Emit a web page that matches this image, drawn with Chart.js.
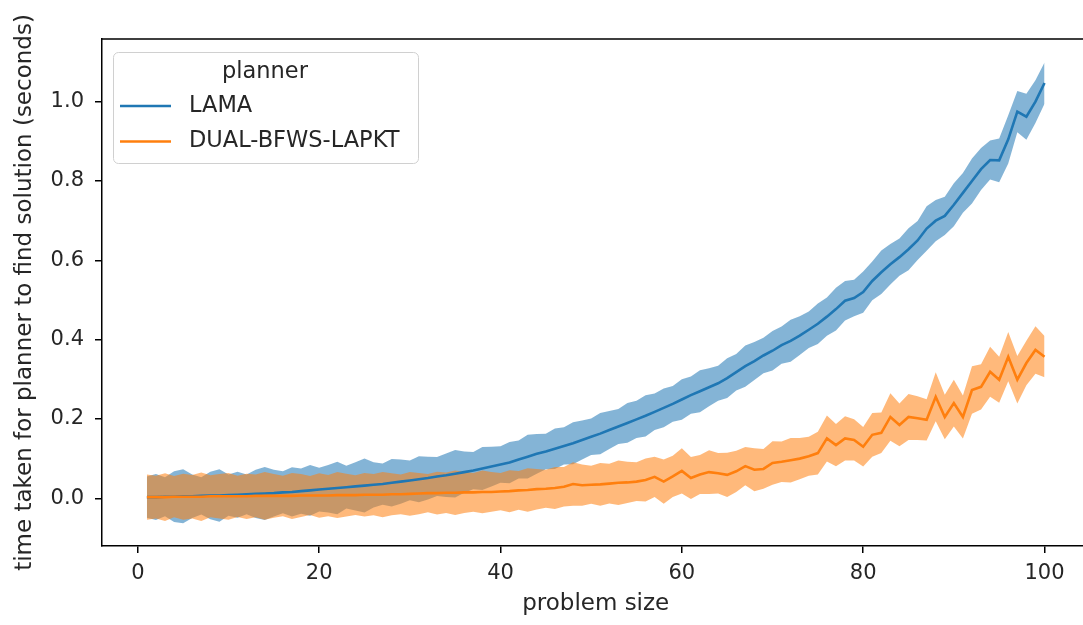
<!DOCTYPE html>
<html><head><meta charset="utf-8">
<script src="https://cdn.jsdelivr.net/npm/chart.js@4.4.1/dist/chart.umd.min.js"></script>
<style>html,body{margin:0;padding:0;overflow:hidden;background:#fff}#wrap{width:1100px;height:625px}</style>
</head><body><div id="wrap"><canvas id="c" width="1100" height="625"></canvas></div>
<script>
const problemSizes = Array.from({length:100},(_,i)=>i+1);
const seriesNames = ['LAMA','DUAL-BFWS-LAPKT'];
const legendTitle = 'planner';
const xTickValues = [0,20,40,60,80,100];
const yTickValues = [0,0.2,0.4,0.6,0.8,1.0];

const lamaMean = [
 0.003,0.003,0.004,0.004,0.005,0.005,0.006,0.007,0.007,0.008,
 0.009,0.010,0.011,0.012,0.013,0.015,0.016,0.018,0.020,0.022,
 0.024,0.026,0.028,0.030,0.032,0.034,0.036,0.039,0.042,0.045,
 0.048,0.051,0.055,0.058,0.062,0.066,0.070,0.075,0.080,0.085,
 0.090,0.098,0.105,0.112,0.118,0.125,0.132,0.139,0.147,0.155,
 0.163,0.172,0.181,0.190,0.199,0.208,0.218,0.228,0.238,0.249,
 0.260,0.270,0.280,0.290,0.303,0.318,0.333,0.346,0.360,0.372,
 0.386,0.397,0.410,0.425,0.440,0.458,0.477,0.498,0.505,0.520,
 0.548,0.570,0.590,0.608,0.628,0.650,0.680,0.700,0.712,0.740,
 0.770,0.800,0.830,0.853,0.852,0.905,0.975,0.962,1.000,1.047];
const lamaCi = [
 0.052,0.058,0.049,0.064,0.068,0.055,0.047,0.060,0.066,0.052,
 0.058,0.050,0.061,0.067,0.059,0.053,0.062,0.057,0.064,0.055,
 0.060,0.066,0.054,0.061,0.068,0.057,0.052,0.060,0.056,0.050,
 0.058,0.054,0.049,0.055,0.060,0.052,0.047,0.054,0.050,0.046,
 0.052,0.048,0.055,0.050,0.045,0.051,0.047,0.053,0.049,0.046,
 0.052,0.048,0.044,0.050,0.047,0.052,0.046,0.049,0.045,0.051,
 0.047,0.053,0.048,0.044,0.050,0.046,0.052,0.048,0.045,0.050,
 0.047,0.053,0.049,0.046,0.051,0.048,0.054,0.050,0.046,0.052,
 0.049,0.055,0.051,0.047,0.053,0.049,0.056,0.052,0.048,0.054,
 0.050,0.057,0.053,0.049,0.055,0.061,0.052,0.058,0.054,0.052];
const dualMean = [
 0.003,0.003,0.003,0.004,0.004,0.004,0.004,0.005,0.005,0.005,
 0.005,0.005,0.006,0.006,0.006,0.006,0.006,0.007,0.007,0.007,
 0.007,0.008,0.008,0.008,0.009,0.009,0.009,0.010,0.010,0.011,
 0.012,0.013,0.013,0.014,0.014,0.015,0.015,0.016,0.016,0.017,
 0.018,0.020,0.021,0.023,0.024,0.026,0.029,0.036,0.033,0.034,
 0.035,0.037,0.039,0.040,0.042,0.046,0.054,0.042,0.055,0.069,
 0.051,0.060,0.066,0.063,0.059,0.068,0.081,0.072,0.074,0.089,
 0.092,0.096,0.100,0.106,0.114,0.151,0.134,0.151,0.147,0.130,
 0.160,0.165,0.205,0.185,0.205,0.202,0.198,0.256,0.205,0.240,
 0.205,0.273,0.281,0.319,0.299,0.357,0.299,0.341,0.374,0.357];
const dualCi = [
 0.057,0.054,0.060,0.052,0.058,0.055,0.061,0.053,0.056,0.059,
 0.052,0.057,0.054,0.060,0.055,0.051,0.058,0.054,0.049,0.056,
 0.052,0.058,0.054,0.050,0.055,0.052,0.057,0.053,0.050,0.055,
 0.052,0.048,0.054,0.051,0.056,0.052,0.049,0.054,0.050,0.047,
 0.053,0.049,0.055,0.051,0.048,0.053,0.050,0.055,0.052,0.048,
 0.054,0.050,0.056,0.052,0.049,0.054,0.051,0.056,0.052,0.057,
 0.053,0.049,0.055,0.051,0.056,0.052,0.048,0.054,0.050,0.055,
 0.051,0.056,0.052,0.049,0.054,0.058,0.053,0.056,0.052,0.050,
 0.055,0.051,0.060,0.054,0.058,0.055,0.052,0.062,0.056,0.059,
 0.054,0.060,0.057,0.063,0.058,0.062,0.060,0.056,0.060,0.052];

const BLUE = '#1f77b4', ORANGE = '#ff7f0e';
const BLUE_BAND = 'rgba(31,119,180,0.55)', ORANGE_BAND = 'rgba(255,127,14,0.55)';
const pts = (arr) => problemSizes.map((x,i)=>({x, y: arr[i]}));
const band = (m, c, s) => problemSizes.map((x,i)=>({x, y: m[i] + s*c[i]}));

const FONT = '"DejaVu Sans", sans-serif';
const TXT = '#262626';

const frameAndLegend = {
  id: 'frameAndLegend',
  afterDraw(chart) {
    const ctx = chart.ctx, a = chart.chartArea;
    ctx.save();
    ctx.strokeStyle = '#000'; ctx.lineWidth = 1.5;
    ctx.beginPath();
    ctx.moveTo(a.left, a.top); ctx.lineTo(a.right, a.top); ctx.lineTo(a.right, a.bottom);
    ctx.stroke();
    // legend
    const x = 113.5, y = 52.5, w = 305, h = 111;
    ctx.beginPath(); ctx.roundRect(x, y, w, h, 5);
    ctx.fillStyle = 'rgba(255,255,255,0.8)'; ctx.fill();
    ctx.strokeStyle = '#d0d0d0'; ctx.lineWidth = 1; ctx.stroke();
    ctx.font = '22.5px ' + FONT; ctx.fillStyle = TXT;
    ctx.textAlign = 'center'; ctx.textBaseline = 'middle';
    ctx.fillText(legendTitle, 265, 72);
    const rows = [[seriesNames[0], BLUE, 106], [seriesNames[1], ORANGE, 141.5]];
    ctx.textAlign = 'left';
    rows.forEach(([name, col, yy]) => {
      ctx.strokeStyle = col; ctx.lineWidth = 2.6;
      ctx.beginPath(); ctx.moveTo(120, yy); ctx.lineTo(171, yy); ctx.stroke();
      ctx.fillStyle = TXT; ctx.fillText(name, 189, yy);
    });
    ctx.restore();
  }
};

new Chart(document.getElementById('c'), {
  type: 'line',
  data: {
    datasets: [
      {label: seriesNames[1], data: pts(dualMean), borderColor: ORANGE, borderWidth: 2.6, pointRadius: 0, fill: false, order: 0},
      {label: seriesNames[0], data: pts(lamaMean), borderColor: BLUE, borderWidth: 2.6, pointRadius: 0, fill: false, order: 1},
      {label: 'dual-lo', data: band(dualMean, dualCi, -1), borderWidth: 0, pointRadius: 0, fill: false, order: 2},
      {label: 'dual-hi', data: band(dualMean, dualCi, 1), borderWidth: 0, pointRadius: 0, fill: '-1', backgroundColor: ORANGE_BAND, order: 2},
      {label: 'lama-lo', data: band(lamaMean, lamaCi, -1), borderWidth: 0, pointRadius: 0, fill: false, order: 3},
      {label: 'lama-hi', data: band(lamaMean, lamaCi, 1), borderWidth: 0, pointRadius: 0, fill: '-1', backgroundColor: BLUE_BAND, order: 3}
    ]
  },
  options: {
    responsive: false, animation: false, devicePixelRatio: 1,
    layout: {padding: {left: 0, top: 39, right: 10.6, bottom: 0}},
    plugins: {legend: {display: false}, tooltip: {enabled: false}},
    elements: {line: {tension: 0}},
    scales: {
      x: {
        type: 'linear', min: -3.95, max: 104.95,
        afterBuildTicks: (s) => { s.ticks = xTickValues.map(v => ({value: v})); },
        afterFit: (s) => { s.height = 79; },
        grid: {drawOnChartArea: false, drawTicks: true, tickLength: 7, color: '#000', lineWidth: 1.5},
        border: {display: true, color: '#000', width: 1.5},
        ticks: {font: {family: FONT, size: 21}, color: TXT, padding: 8, maxRotation: 0, callback: v => String(v)},
        title: {display: true, text: 'problem size', font: {family: FONT, size: 23}, color: TXT, padding: {top: 0, bottom: 7}}
      },
      y: {
        min: -0.1203, max: 1.158,
        afterBuildTicks: (s) => { s.ticks = yTickValues.map(v => ({value: v})); },
        afterFit: (s) => { s.width = 102; },
        grid: {drawOnChartArea: false, drawTicks: true, tickLength: 7, color: '#000', lineWidth: 1.5},
        border: {display: true, color: '#000', width: 1.5},
        ticks: {font: {family: FONT, size: 21}, color: TXT, padding: 11, callback: v => v.toFixed(1)},
        title: {display: true, text: 'time taken for planner to find solution (seconds)', font: {family: FONT, size: 23}, color: TXT, padding: {top: 11, bottom: 0}}
      }
    }
  },
  plugins: [frameAndLegend]
});
</script>
</body></html>
